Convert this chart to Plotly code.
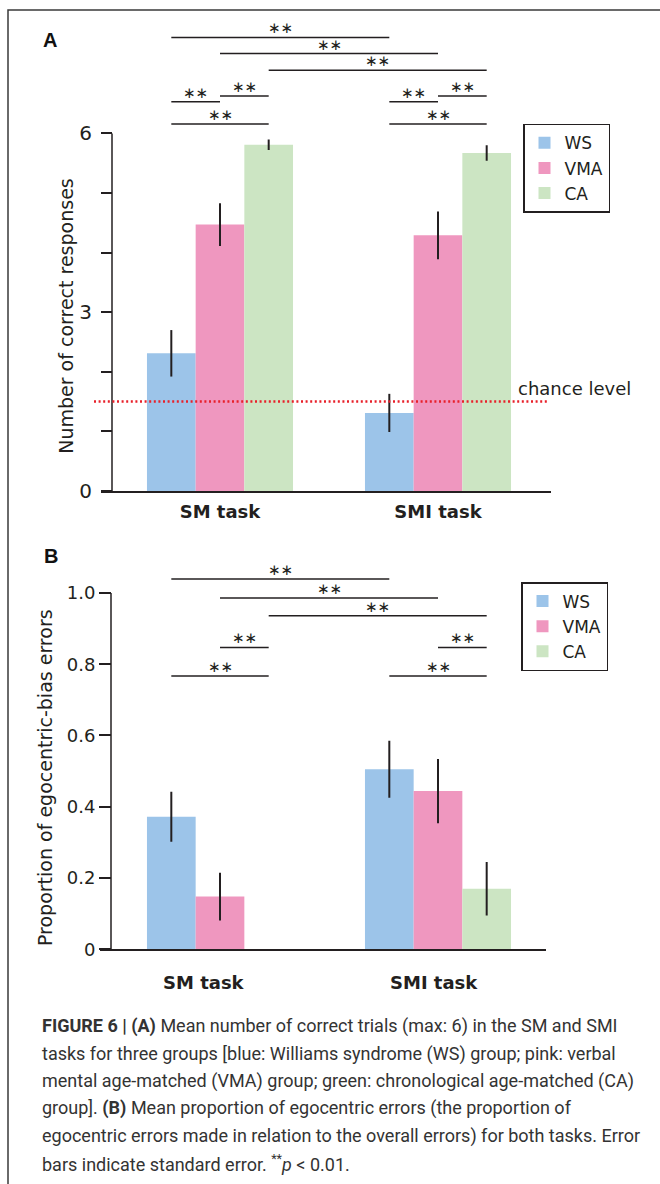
import plotly.graph_objects as go

# ---------------- data ----------------
groups = ["WS", "VMA", "CA"]
tasks = ["SM task", "SMI task"]
group_colors = ["#9cc4e9", "#ef97bf", "#cce5c3"]

# Panel A: number of correct responses (mean, SE)
correct_ws = [2.31, 1.31]
correct_vma = [4.47, 4.29]
correct_ca = [5.81, 5.67]
correct_ws_se = [0.39, 0.32]
correct_vma_se = [0.36, 0.40]
correct_ca_se = [0.09, 0.13]
chance_level = 1.5

# Panel B: proportion of egocentric-bias errors (mean, SE)
ego_ws = [0.372, 0.505]
ego_vma = [0.148, 0.444]
ego_ca = [0.0, 0.170]
ego_ws_se = [0.070, 0.080]
ego_vma_se = [0.067, 0.090]
ego_ca_se = [0.0, 0.075]

yticks_a = [0, 3, 6]
yticktext_a = ["0", "3", "6"]
yticks_b = [0, 0.2, 0.4, 0.6, 0.8, 1.0]
yticktext_b = ["0", "0.2", "0.4", "0.6", "0.8", "1.0"]

# significance comparisons: (group i, task i, group j, task j)
sig_pairs_a = [(0, 0, 0, 1), (1, 0, 1, 1), (2, 0, 2, 1),
               (0, 0, 1, 0), (1, 0, 2, 0), (0, 0, 2, 0),
               (0, 1, 1, 1), (1, 1, 2, 1), (0, 1, 2, 1)]
sig_pairs_b = [(0, 0, 0, 1), (1, 0, 1, 1), (2, 0, 2, 1),
               (1, 0, 2, 0), (0, 0, 2, 0),
               (1, 1, 2, 1), (0, 1, 2, 1)]
sig_label = "∗∗"

# ---------------- layout helpers ----------------
W, H = 660, 1184
INK = "#231f20"
BARGAP = 0.33
BAR_W = (1 - BARGAP) / 3


def pxx(p):
    return p / W


def pxy(p):
    return 1 - p / H


# x mapping: category 0 centre at 220px, 218 px per category
def xrange_for(left_px, right_px):
    return [(left_px - 220) / 218, (right_px - 220) / 218]


# bracket heights (axis units) for each comparison
sig_levels_a = [7.61, 7.34, 7.06, 6.53, 6.63, 6.16, 6.53, 6.63, 6.16]
sig_levels_b = [1.039, 0.986, 0.936, 0.847, 0.767, 0.847, 0.767]

fig = go.Figure()

means_a = [correct_ws, correct_vma, correct_ca]
ses_a = [correct_ws_se, correct_vma_se, correct_ca_se]
means_b = [ego_ws, ego_vma, ego_ca]
ses_b = [ego_ws_se, ego_vma_se, ego_ca_se]

for i, g in enumerate(groups):
    fig.add_trace(go.Bar(
        x=[0, 1], y=means_a[i], name=g, offsetgroup=str(i),
        marker=dict(color=group_colors[i], line=dict(width=0)),
        error_y=dict(type="data", array=ses_a[i], color=INK, thickness=2, width=0),
        xaxis="x", yaxis="y", legend="legend"))
for i, g in enumerate(groups):
    fig.add_trace(go.Bar(
        x=[0, 1], y=means_b[i], name=g, offsetgroup=str(i),
        marker=dict(color=group_colors[i], line=dict(width=0)),
        error_y=dict(type="data", array=ses_b[i], color=INK, thickness=2, width=0),
        xaxis="x2", yaxis="y2", legend="legend2"))

shapes = []
annotations = []


def add_brackets(pairs, levels, xr, yr):
    for (gi, ti, gj, tj), lev in zip(pairs, levels):
        x0 = ti + (gi - 1) * BAR_W
        x1 = tj + (gj - 1) * BAR_W
        shapes.append(dict(type="line", xref=xr, yref=yr, x0=x0, x1=x1, y0=lev, y1=lev,
                           line=dict(color=INK, width=1.5)))
        annotations.append(dict(x=(x0 + x1) / 2, y=lev, xref=xr, yref=yr, text=sig_label,
                                showarrow=False, xanchor="center", yanchor="bottom", yshift=-2,
                                font=dict(family="DejaVu Sans", size=15, color=INK)))


add_brackets(sig_pairs_a, sig_levels_a, "x", "y")
add_brackets(sig_pairs_b, sig_levels_b, "x2", "y2")

# y axis lines (only up to the top tick)
shapes.append(dict(type="line", xref="x domain", yref="y", x0=(112 - 101) / 450, x1=(112 - 101) / 450,
                   y0=0, y1=yticks_a[-1], line=dict(color=INK, width=1.5)))
shapes.append(dict(type="line", xref="x2 domain", yref="y2", x0=(111 - 100) / 446, x1=(111 - 100) / 446,
                   y0=0, y1=yticks_b[-1], line=dict(color=INK, width=1.5)))

# chance level
shapes.append(dict(type="line", xref="x domain", yref="y", x0=(94 - 101) / 450, x1=(547 - 101) / 450,
                   y0=chance_level, y1=chance_level,
                   line=dict(color="#e8202a", width=2.5, dash="2px,2.6px")))
annotations.append(dict(x=pxx(516), y=chance_level, xref="paper", yref="y", text="chance level",
                        showarrow=False, xanchor="left", yanchor="bottom", yshift=1,
                        font=dict(family="DejaVu Sans", size=18, color=INK)))

# outer frame
shapes.append(dict(type="rect", xref="paper", yref="paper", x0=pxx(8), x1=1.05, y0=-0.05, y1=pxy(10),
                   line=dict(color="#3a3a3a", width=1.5)))

# panel letters
annotations.append(dict(x=pxx(50), y=pxy(40), xref="paper", yref="paper", text="<b>A</b>",
                        showarrow=False, xanchor="center", yanchor="middle",
                        font=dict(family="Liberation Sans", size=20, color="#111")))
annotations.append(dict(x=pxx(51), y=pxy(562), xref="paper", yref="paper", text="<b>B</b>",
                        showarrow=False, xanchor="center", yanchor="middle",
                        font=dict(family="Liberation Sans", size=20, color="#111")))

# y axis titles
annotations.append(dict(x=pxx(66), y=pxy(320), xref="paper", yref="paper",
                        text="Number of correct responses", textangle=-90, showarrow=False,
                        xanchor="center", yanchor="middle",
                        font=dict(family="DejaVu Sans", size=19, color=INK)))
annotations.append(dict(x=pxx(45), y=pxy(786), xref="paper", yref="paper",
                        text="Proportion of egocentric-bias errors", textangle=-90, showarrow=False,
                        xanchor="center", yanchor="middle",
                        font=dict(family="DejaVu Sans", size=19, color=INK)))

# panel B category labels
for t, lab in enumerate(tasks):
    annotations.append(dict(x=t, y=0, xref="x2", yref="y2", text="<b>" + lab + "</b>",
                            showarrow=False, xanchor="center", yanchor="top", yshift=-21,
                            xshift=[-16, -4][t],
                            font=dict(family="DejaVu Sans", size=18, color=INK)))

# caption
caption_lines = [
    "<b>FIGURE 6 | (A)</b> Mean number of correct trials (max: 6) in the SM and SMI",
    "tasks for three groups [blue: Williams syndrome (WS) group; pink: verbal",
    "mental age-matched (VMA) group; green: chronological age-matched (CA)",
    "group]. <b>(B)</b> Mean proportion of egocentric errors (the proportion of",
    "egocentric errors made in relation to the overall errors) for both tasks. Error",
    "bars indicate standard error. <sup>**</sup><i>p</i> &lt; 0.01.",
]
for k, line in enumerate(caption_lines):
    annotations.append(dict(x=pxx(40), y=pxy(1037 + 27.6 * k), xref="paper", yref="paper",
                            text=line, showarrow=False, xanchor="left", yanchor="middle",
                            font=dict(family="Liberation Sans Narrow, Roboto, sans-serif", size=18,
                                      color="#333333")))

axis_common = dict(showgrid=False, zeroline=False)

fig.update_layout(
    width=W, height=H, margin=dict(l=0, r=0, t=0, b=0),
    paper_bgcolor="white", plot_bgcolor="white",
    barmode="group", bargap=BARGAP, bargroupgap=0,
    showlegend=True,
    xaxis=dict(domain=[pxx(101), pxx(551)], range=xrange_for(101, 551), anchor="y",
               tickvals=[0, 1], ticktext=["<b>" + t + "</b>" for t in tasks], ticks="",
               showline=True, linecolor=INK, linewidth=1.5, ticklabelstandoff=4,
               tickfont=dict(family="DejaVu Sans", size=18, color=INK), **axis_common),
    yaxis=dict(domain=[pxy(496), pxy(20)], range=[0, (496 - 20) / 60.2], anchor="free",
               position=pxx(112), tickvals=yticks_a, ticktext=yticktext_a,
               ticks="outside", ticklen=11, tickwidth=1.5, tickcolor=INK, showline=False,
               ticklabelstandoff=5,
               minor=dict(tickvals=[1, 2, 4, 5], ticks="outside", ticklen=11, tickwidth=1.5,
                          tickcolor=INK, showgrid=False),
               tickfont=dict(family="DejaVu Sans", size=20, color=INK), **axis_common),
    xaxis2=dict(domain=[pxx(100), pxx(546)], range=xrange_for(100, 546), anchor="y2",
                showticklabels=False, ticks="",
                showline=True, linecolor=INK, linewidth=1.5, **axis_common),
    yaxis2=dict(domain=[pxy(959), pxy(575)], range=[0, (959 - 575) / 360], anchor="free",
                position=pxx(111), tickvals=yticks_b, ticktext=yticktext_b,
                ticks="outside", ticklen=12, tickwidth=1.5, tickcolor=INK, showline=False,
                tickfont=dict(family="DejaVu Sans", size=18, color=INK), **axis_common),
    legend=dict(x=pxx(523), y=pxy(125), xanchor="left", yanchor="top",
                bordercolor=INK, borderwidth=1.5, bgcolor="white",
                font=dict(family="DejaVu Sans", size=17, color=INK), tracegroupgap=0),
    legend2=dict(x=pxx(521), y=pxy(588), xanchor="left", yanchor="top",
                 bordercolor=INK, borderwidth=1.5, bgcolor="white",
                 font=dict(family="DejaVu Sans", size=17, color=INK), tracegroupgap=0),
    shapes=shapes, annotations=annotations,
)

fig.write_html("out.html")
